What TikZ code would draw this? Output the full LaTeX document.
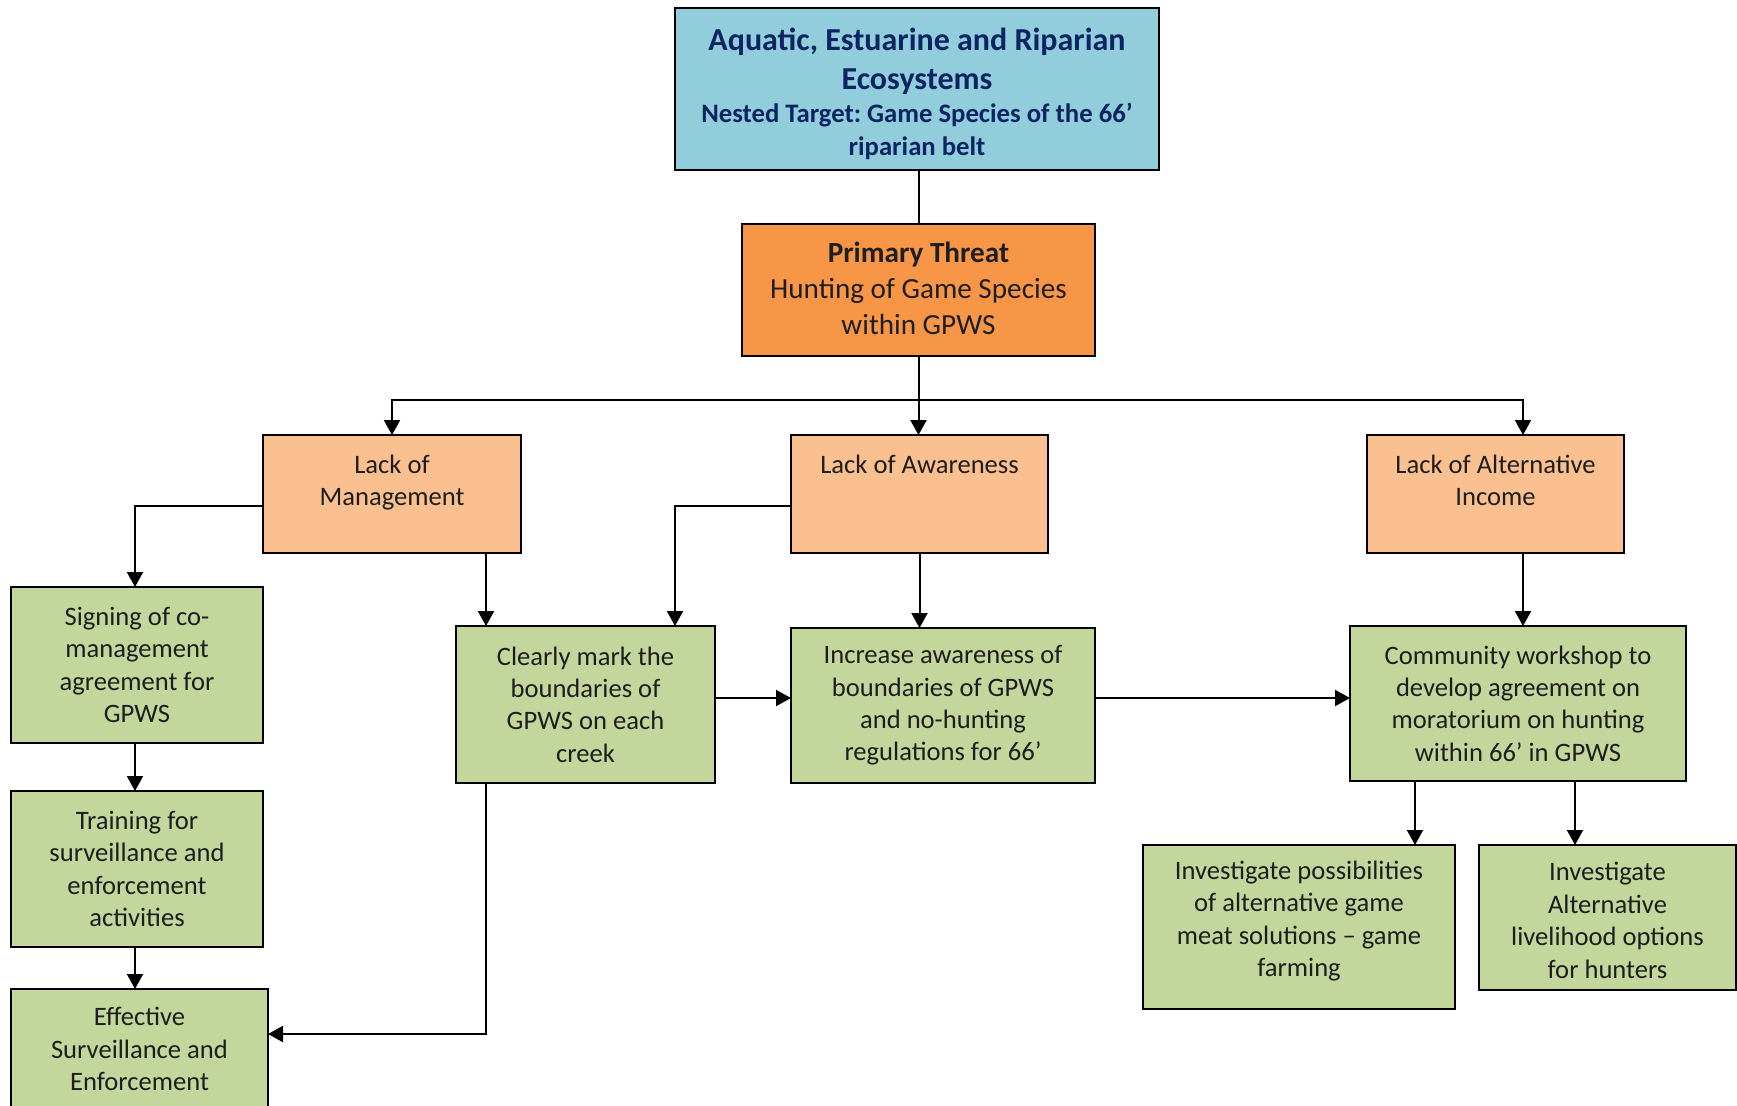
\documentclass[tikz,border=0pt]{standalone}
\usepackage{fontspec}
\setmainfont{Carlito}
\frenchspacing
\usetikzlibrary{arrows.meta,calc}
\definecolor{seablue}{RGB}{146,205,220}
\definecolor{titleblue}{RGB}{12,36,98}
\definecolor{threat}{RGB}{247,150,70}
\definecolor{cause}{RGB}{250,192,144}
\definecolor{action}{RGB}{195,214,155}
\definecolor{ink}{RGB}{30,30,30}
\begin{document}
\begin{tikzpicture}[x=0.5pt,y=-0.5pt,
  box/.style={draw=black, line width=1pt, inner sep=0pt, outer sep=0pt, align=center,
    text=ink, font=\fontsize{13.3}{16.2}\selectfont},
  sz/.style 2 args={minimum width={#1*0.5pt}, minimum height={#2*0.5pt}},
  arr/.style={line width=1pt, -{Triangle[length=7.5pt,width=8pt]}},
  link/.style={line width=1pt}]
\useasboundingbox (0,0) rectangle (1737,1105);

% target and primary threat
\node[box, fill=seablue, sz={484}{162}, text=titleblue,
      font=\fontsize{16}{19.5}\selectfont\bfseries] (eco) at (917,89)
  {\rule{0pt}{16.5pt}Aquatic, Estuarine and Riparian\\Ecosystems\\[-3pt]
   {\fontsize{13.35}{16}\selectfont Nested Target: Game Species of the 66’}\\[-3pt]
   {\fontsize{13.35}{16}\selectfont riparian belt}};
\node[box, fill=threat, sz={353}{132}, font=\fontsize{14.6}{18}\selectfont] (pt) at (918.5,290)
  {\textbf{Primary Threat}\\Hunting of Game Species\\within GPWS\rule[-2.2pt]{0pt}{2.2pt}};

% contributing factors
\node[box, fill=cause, sz={258}{118}] (lom) at (392,494)
  {Lack of\\Management\rule[-13.5pt]{0pt}{13.5pt}};
\node[box, fill=cause, sz={257}{118}] (loa) at (919.5,494)
  {Lack of Awareness\rule[-30pt]{0pt}{30pt}};
\node[box, fill=cause, sz={257}{118}] (loai) at (1495.5,494)
  {Lack of Alternative\\Income\rule[-13.5pt]{0pt}{13.5pt}};

% strategies
\node[box, fill=action, sz={252}{156}] (sig) at (137,665) {Signing of co-\\management\\agreement for\\GPWS};
\node[box, fill=action, sz={252}{156}] (trn) at (137,869) {Training for\\surveillance and\\enforcement\\activities};
\node[box, fill=action, sz={257}{120}] (eff) at (139.5,1049) {Effective\\Surveillance and\\Enforcement};
\node[box, fill=action, sz={259}{157}] (clr) at (585.5,704.5) {Clearly mark the\\boundaries of\\GPWS on each\\creek};
\node[box, fill=action, sz={304}{155}] (inc) at (943,705.5) {Increase awareness of\\boundaries of GPWS\\and no-hunting\\regulations for 66’};
\node[box, fill=action, sz={336}{155}] (com) at (1518,703.5) {Community workshop to\\develop agreement on\\moratorium on hunting\\within 66’ in GPWS};
\node[box, fill=action, sz={312}{164}] (ip) at (1299,927)
  {Investigate possibilities\\of alternative game\\meat solutions – game\\farming\rule[-8.2pt]{0pt}{8.2pt}};
\node[box, fill=action, sz={257}{145}] (ia) at (1607.5,917.5)
  {\rule{0pt}{12pt}Investigate\\Alternative\\livelihood options\\for hunters};

% routing helpers
\coordinate (bus) at (0,400);
\coordinate (ymid) at (0,506);
\coordinate (yrow) at (0,698);
\coordinate (yeff) at (0,1034);
\coordinate (xleft) at (135,0);
\coordinate (xlomd) at (486,0);
\coordinate (xloal) at (675,0);
\coordinate (xai) at (1523,0);
\coordinate (xip) at (1415,0);
\coordinate (xia) at (1575,0);

% connectors
\draw[link] (pt.north |- eco.south) -- (pt.north);
\draw[link] (pt.south) -- (pt.south |- bus);
\draw[arr] (pt.south |- bus) -| (lom.north);
\draw[arr] (pt.south |- bus) -| (loai.north -| xai);
\draw[arr] (pt.south |- bus) -- (pt.south |- loa.north);

\draw[arr] (lom.west |- ymid) -| (sig.north -| xleft);
\draw[arr] (lom.south -| xlomd) -- (clr.north -| xlomd);
\draw[arr] (loa.west |- ymid) -| (clr.north -| xloal);
\draw[arr] (loa.south) -- (loa.south |- inc.north);
\draw[arr] (loai.south -| xai) -- (com.north -| xai);

\draw[arr] (clr.east |- yrow) -- (inc.west |- yrow);
\draw[arr] (inc.east |- yrow) -- (com.west |- yrow);
\draw[arr] (com.south -| xip) -- (ip.north -| xip);
\draw[arr] (com.south -| xia) -- (ia.north -| xia);

\draw[arr] (sig.south -| xleft) -- (trn.north -| xleft);
\draw[arr] (trn.south -| xleft) -- (eff.north -| xleft);
\draw[arr] (clr.south -| xlomd) |- (eff.east |- yeff);
\end{tikzpicture}
\end{document}
